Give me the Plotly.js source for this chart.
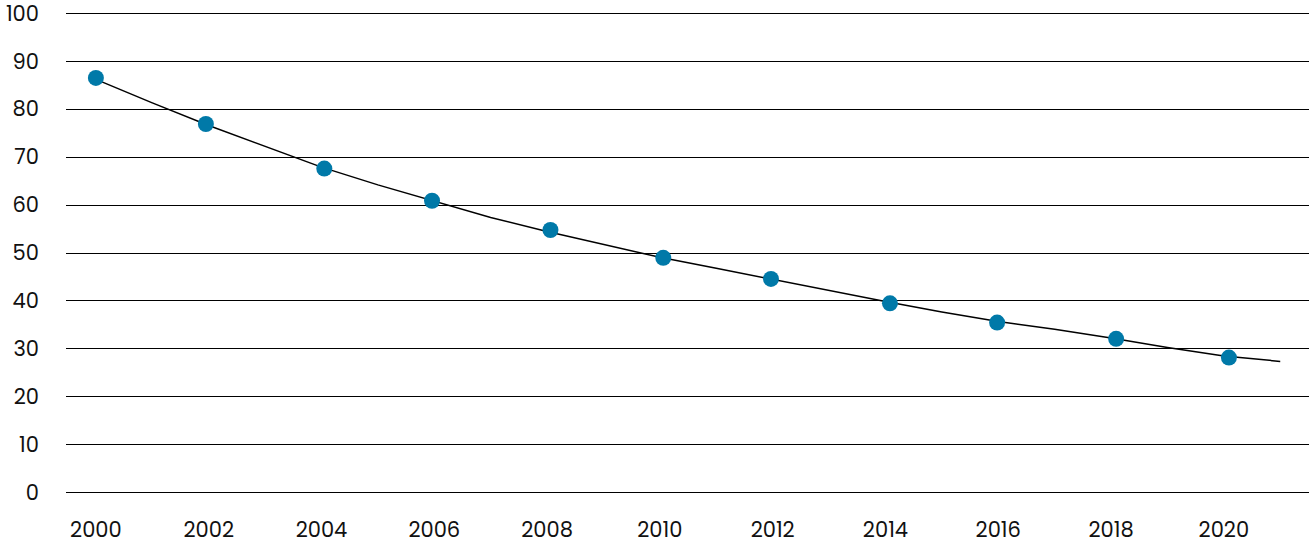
<!DOCTYPE html>
<html>
<head>
<meta charset="utf-8">
<script src="https://cdn.plot.ly/plotly-3.0.1.min.js"></script>
<style>
html,body{margin:0;padding:0;background:#fff;}
#chart{width:1312px;height:541px;}
</style>
</head>
<body>
<div id="chart"></div>
<script>
// Trend line (yearly)
const lineYears = [2000,2001,2002,2003,2004,2005,2006,2007,2008,2009,2010,2011,2012,2013,2014,2015,2016,2017,2018,2019,2020,2021];
const lineValues = [86.2,81.3,76.6,72.3,67.9,64.2,60.8,57.4,54.5,51.8,49.1,46.8,44.5,42.1,39.9,37.7,35.7,34.1,32.3,30.3,28.5,27.4];

// Observed points
const pointYears = [2000,2001.95,2004.05,2005.96,2008.06,2010.06,2011.97,2014.08,2015.98,2018.09,2020.09];
const pointValues = [86.5,76.9,67.6,60.9,54.8,49.0,44.6,39.5,35.5,32.1,28.2];

const xTicks = [2000,2002,2004,2006,2008,2010,2012,2014,2016,2018,2020];
const xTickLabels = ['2000','2002','2004','2006','2008','2010','2012','2014','2016','2018','2020'];
const yTicks = [0,10,20,30,40,50,60,70,80,90,100];

const font = {family: 'Poppins, "Open Sans", "Noto Sans", sans-serif', size: 21, color: '#111'};

const traces = [
  {
    x: lineYears, y: lineValues, type: 'scatter', mode: 'lines',
    line: {color: '#000', width: 1.5}, hoverinfo: 'skip', showlegend: false
  },
  {
    x: pointYears, y: pointValues, type: 'scatter', mode: 'markers',
    marker: {color: '#0079a8', size: 16}, showlegend: false
  }
];

const layout = {
  width: 1312, height: 541,
  margin: {l: 66, r: 3, t: 12, b: 47},
  paper_bgcolor: '#fff', plot_bgcolor: '#fff',
  font: font,
  showlegend: false,
  xaxis: {
    range: [1999.47, 2021.51],
    tickvals: xTicks, ticktext: xTickLabels,
    showgrid: false, zeroline: false, showline: false,
    ticks: '', ticklabelstandoff: 21,
    ticklabeloverflow: 'allow',
    tickfont: font
  },
  yaxis: {
    range: [-0.25, 100.25],
    tickvals: yTicks,
    showgrid: true, gridcolor: '#000', gridwidth: 1,
    zeroline: false, showline: false,
    ticks: '', ticklabelstandoff: 26,
    ticklabeloverflow: 'allow',
    tickfont: font
  }
};

Plotly.newPlot('chart', traces, layout, {displayModeBar: false, staticPlot: true});
</script>
</body>
</html>
